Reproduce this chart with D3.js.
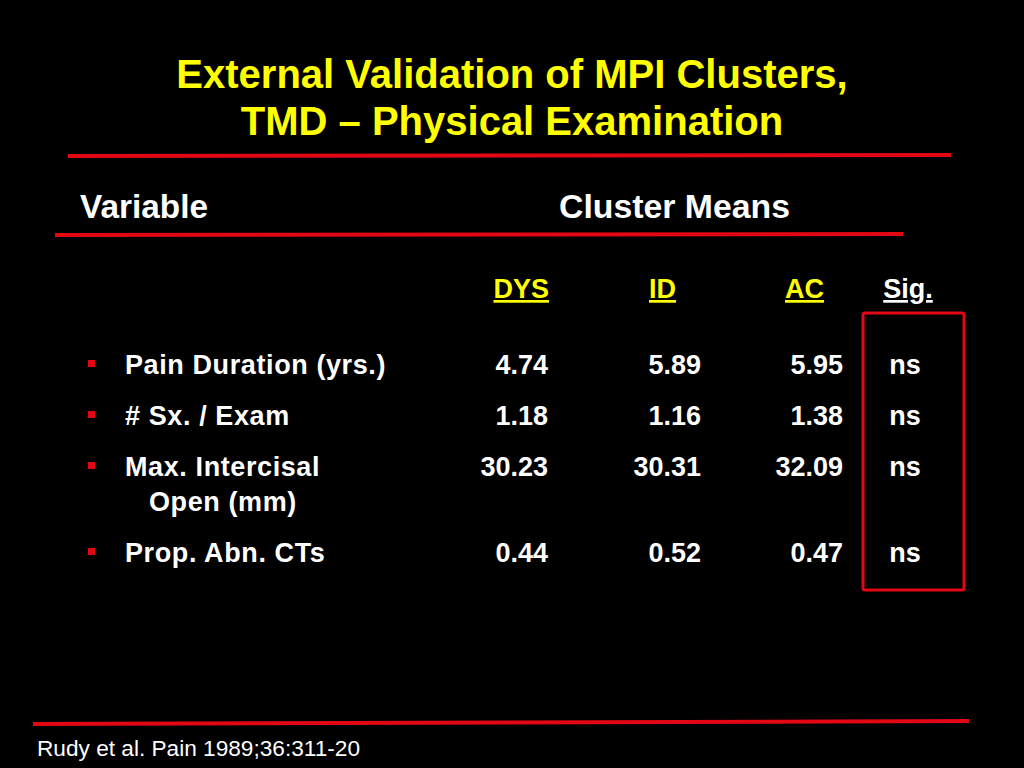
<!DOCTYPE html>
<html lang="en">
<head>
	<meta charset="utf-8">
	<title>External Validation of MPI Clusters</title>
	<script src="https://d3js.org/d3.v7.min.js"></script>
	<style>
		html, body { margin: 0; padding: 0; background: #000; }
		svg { display: block; }
		text { font-family: "Liberation Sans", Arial, sans-serif; }
	</style>
</head>
<body>
	<div id="container"></div>
	<script>
		// Data
		const titleLines = ["External Validation of MPI Clusters,", "TMD \u2013 Physical Examination"];
		const clusters = ["DYS", "ID", "AC"];
		const variables = [["Pain Duration (yrs.)"], ["# Sx. / Exam"], ["Max. Intercisal", "Open (mm)"], ["Prop. Abn. CTs"]];
		const dys = [4.74, 1.18, 30.23, 0.44];
		const id = [5.89, 1.16, 30.31, 0.52];
		const ac = [5.95, 1.38, 32.09, 0.47];
		const sig = ["ns", "ns", "ns", "ns"];
		const source = "Rudy et al. Pain 1989;36:311-20";

		const width = 1024;
		const height = 768;
		const red = "#e30613";
		const yellow = "#ffff00";

		const svg = d3.select("#container")
			.append("svg")
			.attr("width", width)
			.attr("height", height);

		svg.append("rect").attr("width", width).attr("height", height).attr("fill", "#000");

		// Title
		svg.append("g")
			.selectAll("text")
			.data(titleLines)
			.join("text")
			.attr("x", 512)
			.attr("y", (d, i) => 88 + i * 47)
			.attr("text-anchor", "middle")
			.style("font-size", "40px")
			.style("font-weight", "bold")
			.style("fill", yellow)
			.text(d => d);

		// Red rules
		const rules = [
			{ x1: 68, y1: 156, x2: 951, y2: 155 },
			{ x1: 55, y1: 235, x2: 903, y2: 234 },
			{ x1: 33, y1: 724, x2: 969, y2: 721 }
		];
		svg.append("g")
			.selectAll("line")
			.data(rules)
			.join("line")
			.attr("x1", d => d.x1).attr("y1", d => d.y1)
			.attr("x2", d => d.x2).attr("y2", d => d.y2)
			.style("stroke", red)
			.style("stroke-width", 4);

		// Header (condensed face in the original)
		svg.append("text")
			.attr("x", 80).attr("y", 218)
			.attr("textLength", 128).attr("lengthAdjust", "spacingAndGlyphs")
			.style("font-size", "33px").style("font-weight", "bold").style("fill", "#fff")
			.text("Variable");
		svg.append("text")
			.attr("x", 559).attr("y", 218)
			.attr("textLength", 231).attr("lengthAdjust", "spacingAndGlyphs")
			.style("font-size", "33px").style("font-weight", "bold").style("fill", "#fff")
			.text("Cluster Means");

		// Column positions (right edges of numbers)
		const colRight = d3.scaleOrdinal().domain(clusters).range([548, 701, 843]);
		const headRight = d3.scaleOrdinal().domain(clusters).range([549, 676, 824]);
		const sigX = 905;
		const fs = "27px";

		svg.append("g")
			.selectAll("text")
			.data(clusters)
			.join("text")
			.attr("x", d => headRight(d))
			.attr("y", 298)
			.attr("text-anchor", "end")
			.style("font-size", fs).style("font-weight", "bold")
			.style("fill", yellow)
			.style("text-decoration", "underline")
			.text(d => d);

		svg.append("text")
			.attr("x", 908).attr("y", 298)
			.attr("text-anchor", "middle")
			.style("font-size", fs).style("font-weight", "bold")
			.style("fill", "#fff")
			.style("text-decoration", "underline")
			.text("Sig.");

		// Rows: each row is one line unit + extra for wrapped labels
		const firstBaseline = 374;
		const rowStep = 51;
		const lineStep = 35;
		let yCursor = firstBaseline;
		const rowY = variables.map(lines => {
			const y = yCursor;
			yCursor += rowStep + (lines.length - 1) * lineStep;
			return y;
		});

		const rows = variables.map((lines, i) => ({
			lines, y: rowY[i], DYS: dys[i], ID: id[i], AC: ac[i], sig: sig[i]
		}));

		const rowG = svg.append("g")
			.selectAll("g")
			.data(rows)
			.join("g")
			.attr("transform", d => `translate(0,${d.y})`);

		rowG.append("rect")
			.attr("x", 88).attr("y", -14)
			.attr("width", 7).attr("height", 7)
			.style("fill", red);

		rowG.append("text")
			.style("font-size", fs).style("font-weight", "bold").style("fill", "#fff")
			.style("letter-spacing", "0.6px")
			.selectAll("tspan")
			.data(d => d.lines)
			.join("tspan")
			.attr("x", (d, i) => i === 0 ? 125 : 149)
			.attr("y", (d, i) => i * lineStep)
			.text(d => d);

		clusters.forEach(c => {
			rowG.append("text")
				.attr("x", colRight(c))
				.attr("text-anchor", "end")
				.style("font-size", fs).style("font-weight", "bold").style("fill", "#fff")
				.text(d => d3.format(".2f")(d[c]));
		});

		rowG.append("text")
			.attr("x", sigX)
			.attr("text-anchor", "middle")
			.style("font-size", fs).style("font-weight", "bold").style("fill", "#fff")
			.text(d => d.sig);

		// Highlight box around significance column
		svg.append("rect")
			.attr("x", 863).attr("y", 313)
			.attr("width", 101).attr("height", 277)
			.attr("rx", 2)
			.style("fill", "none")
			.style("stroke", red)
			.style("stroke-width", 3);

		// Source
		svg.append("text")
			.attr("x", 37).attr("y", 756)
			.attr("textLength", 323).attr("lengthAdjust", "spacingAndGlyphs")
			.style("font-size", "22px").style("fill", "#fff")
			.text(source);
	</script>
</body>
</html>
